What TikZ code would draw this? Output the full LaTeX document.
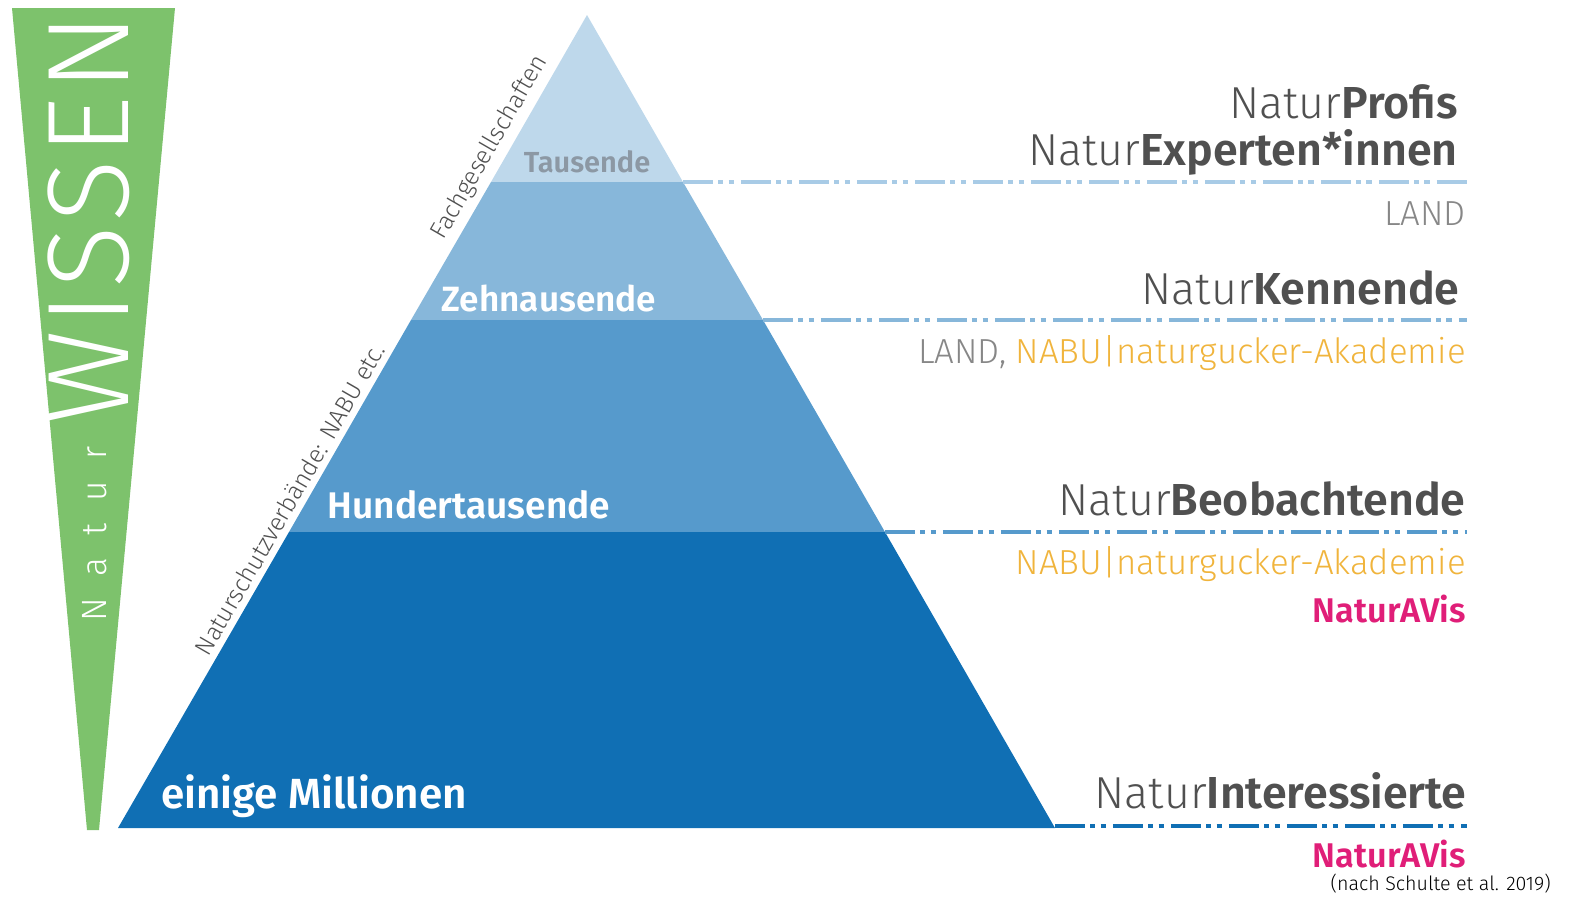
\documentclass[tikz,border=0pt]{standalone}
\usepackage{fontspec}
\setmainfont{Fira Sans Light}[BoldFont={Fira Sans SemiBold}]
\usetikzlibrary{positioning}
\usetikzlibrary{calc}
\definecolor{wissengreen}{RGB}{125,194,108}
\definecolor{textgray}{RGB}{80,80,80}
\definecolor{landgray}{RGB}{135,135,135}
\definecolor{tausendgray}{RGB}{140,152,164}
\definecolor{nabuorange}{RGB}{240,180,60}
\definecolor{avispink}{RGB}{224,30,120}
\definecolor{levela}{RGB}{190,216,235}
\definecolor{levelb}{RGB}{135,183,218}
\definecolor{levelc}{RGB}{86,154,204}
\definecolor{leveld}{RGB}{16,111,180}
\definecolor{linea}{RGB}{168,203,230}
\newcommand{\natur}[1]{Natur\textbf{#1}}
\newcommand{\fsize}[1]{\fontsize{#1}{#1}\selectfont}

\begin{document}
\begin{tikzpicture}[x=0.02cm,y=-0.02cm]
    % Styles
    \tikzset{
        level/.style={text=white,font=\bfseries\fsize{20}},
        role/.style={anchor=base east,inner sep=0,text=textgray,font=\fsize{25.5}},
        source/.style={anchor=base east,inner sep=0,font=\fsize{19.8}},
        slanted/.style={rotate=60,anchor=south,text=textgray,font=\fsize{14}},
        sideline/.style={line width=2.3pt,dash pattern=on 17pt off 3pt on 3pt off 3pt on 3pt off 4pt}
    }
    \useasboundingbox (0,0) rectangle (1569,897);

    % Green wedge
    \fill[wissengreen] (12,8) -- (175,8) -- (99,830) -- (87,830) -- cycle;
    \node (wissen) at (89,219) [rotate=90,text=white,font=\fsize{66}] {\addfontfeature{LetterSpace=4}WISSEN};
    \node (naturw) at (95,534) [rotate=90,text=white,font=\fsize{20}] {\addfontfeature{LetterSpace=62}Natur};

    % Pyramid
    \coordinate (apex) at (587,15);
    \coordinate (bl) at (118,828);
    \coordinate (br) at (1055,828);
    \fill[levela] (apex) -- (683,182) -- (491,182) -- cycle;
    \fill[levelb] (491,182) -- (683,182) -- (763,320) -- (411,320) -- cycle;
    \fill[levelc] (411,320) -- (763,320) -- (885,532) -- (289,532) -- cycle;
    \fill[leveld] (289,532) -- (885,532) -- (br) -- (bl) -- cycle;

    % Level labels
    \node (tausend) at (587,162) [level,text=tausendgray,font=\bfseries\fsize{16.5}] {Tausende};
    \node (zehn) at (549,298) [level] {Zehnausende};
    \node (hundert) at (469,505) [level,font=\bfseries\fsize{21.1}] {Hundertausende};
    \node (million) at (314,796) [level,font=\bfseries\fsize{24}] {einige Millionen};

    % Slanted labels
    \node (fach) at ($(apex)!0.174!(bl)$) [slanted] {Fachgesellschaften};
    \node (verband) at ($(apex)!0.605!(bl)$) [slanted] {Naturschutzverbände: NABU etc.};

    % Dash-dot lines
    \coordinate (ta) at (683,182);
    \coordinate (tb) at (763,320);
    \coordinate (tc) at (885,532);
    \coordinate (td) at (1055,826);
    \coordinate (ea) at (1467,182);
    \coordinate (eb) at (1467,320);
    \coordinate (ec) at (1467,532);
    \coordinate (ed) at (1467,826);
    \draw[sideline,linea] (ta) -- (ea);
    \draw[sideline,levelb] (tb) -- (eb);
    \draw[sideline,levelc] (tc) -- (ec);
    \draw[sideline,leveld] (td) -- (ed);

    % Roles
    \node (profis) at (1458,118) [role] {\natur{Profis}};
    \node (experten) at (1458,165) [role] {\natur{Experten*innen}};
    \node (kennende) at (1460,304) [role] {\natur{Kennende}};
    \node (beob) at (1466,515) [role] {\natur{Beobachtende}};
    \node (interess) at (1467,808) [role] {\natur{Interessierte}};

    % Sources
    \node (landa) at (1466,225) [source,text=landgray] {LAND};
    \node (landb) at (1466,363) [source,text=landgray] {LAND, \textcolor{nabuorange}{NABU|naturgucker-Akademie}};
    \node (nabu) at (1466,574) [source,text=nabuorange] {NABU|naturgucker-Akademie};
    \node (avisa) at (1466,622) [source,text=avispink,font=\bfseries\fsize{19.5}] {NaturAVis};
    \node (avisb) at (1466,867) [source,text=avispink,font=\bfseries\fsize{19.5}] {NaturAVis};
    \node (schulte) at (1551,890) [source,font=\fsize{11.2}] {(nach Schulte et al. 2019)};
\end{tikzpicture}
\end{document}
